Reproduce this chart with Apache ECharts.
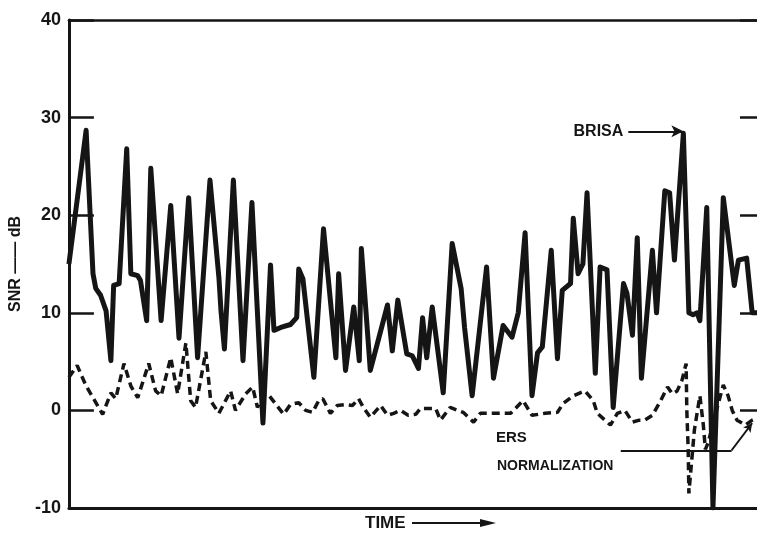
<!DOCTYPE html>
<html>
<head>
<meta charset="utf-8">
<script src="https://cdn.jsdelivr.net/npm/echarts@6/dist/echarts.min.js"></script>
<style>
html,body{margin:0;padding:0;background:#fff;}
#c{width:757px;height:538px;}
</style>
</head>
<body>
<div id="c"></div>
<script>
// Y axis ticks
var yTicks = [-10, 0, 10, 20, 30, 40];
// BRISA (solid) — time (arbitrary units 0..100) and SNR dB
var brisaTime = [0,2.5,3.5,3.9,4.6,5.4,6.1,6.5,7.3,8.4,
  9.0,10.0,10.4,11.3,11.9,13.4,14.8,16.0,17.4,18.7,
  20.5,21.8,22.1,22.6,23.9,25.3,26.6,28.2,29.3,29.8,
  30.8,32.2,33.1,33.4,34.0,35.6,37.0,38.8,39.2,40.2,
  41.4,42.2,42.5,43.8,46.3,47.0,47.8,49.1,49.9,50.8,
  51.4,52.0,52.8,54.4,55.7,57.0,57.5,58.6,60.7,61.7,
  63.1,64.4,65.3,66.3,67.3,68.1,68.8,70.1,71.0,71.7,
  72.9,73.3,74.0,74.7,75.3,76.5,77.2,78.2,79.1,80.6,
  81.1,81.9,82.6,83.2,84.8,85.4,86.6,87.3,88.0,89.3,
  90.1,90.7,91.3,91.7,92.7,93.6,95.1,96.7,97.3,98.5,
  99.3,100];
var brisaSnr = [15,28.7,14,12.5,11.8,10.2,5.1,12.8,13,26.8,
  14,13.8,13.3,9.2,24.8,9.2,21,7.4,21.8,5.4,
  23.6,13.6,10.2,6.3,23.6,5.1,21.3,-1.3,14.9,8.2,
  8.5,8.8,9.5,14.5,13.5,3.4,18.6,5.4,14,4.1,
  10.6,5.1,16.6,4.1,10.8,6.1,11.3,5.8,5.6,4.3,
  9.5,5.4,10.6,1.8,17.1,12.5,8.5,1.5,14.7,3.3,
  8.7,7.5,10,18.2,1.5,5.9,6.5,16.4,5.3,12.3,
  13,19.7,14,15,22.3,3.8,14.7,14.4,0.3,13,
  12,7.7,17.7,3.3,16.4,10,22.5,22.3,15.4,28.4,
  10,9.8,10,9.2,20.8,-10,21.8,12.8,15.4,15.6,
  10,10];
// ERS normalization (dashed)
var ersTime = [0,1.2,2.5,4.9,6.1,6.8,8.0,9.0,10.0,11.6,
  12.6,13.4,14.8,15.8,17.0,17.7,18.4,19.9,20.6,21.8,
  23.5,24.2,25.7,26.7,27.4,28.2,28.9,31.2,32.2,33.4,
  34.4,35.4,36.3,36.9,38.0,39.0,40.2,41.2,42.1,42.8,
  43.8,45.3,46.3,47.2,48.2,49.3,50.4,51.1,53.3,54.0,
  55.4,57.3,58.8,59.8,62.0,64.2,66.0,67.3,69.2,71.0,
  71.8,73.3,74.3,75.0,76.2,76.8,77.9,78.7,79.7,80.8,
  81.9,82.9,83.7,84.8,86.0,87.0,87.7,88.4,89.1,89.7,
  89.8,90.0,90.1,90.9,91.7,92.2,92.5,92.9,94.3,95.1,
  95.8,96.4,97.1,98.3,99.3,100];
var ersSnr = [3.4,4.6,2.5,-0.4,1.8,1.2,4.8,2.5,1.3,4.8,
  2,1.5,5.4,1.7,6.9,1,0.3,6,1,-0.3,
  2,0,1.7,2.4,0.3,1.5,1.7,-0.4,0.6,0.8,
  0,-0.2,1,1.2,-0.3,0.5,0.6,0.5,1.2,0.3,
  -0.7,0.5,-0.5,-0.3,0,-0.5,-0.4,0.2,0.2,-1,
  0.3,-0.2,-1.2,-0.3,-0.3,-0.3,1,-0.5,-0.3,-0.2,
  0.7,1.5,1.8,2,1,-0.3,-1,-1.5,-0.3,0,
  -1.2,-1,-1,-0.5,1,2.4,1.7,2,3.1,4.8,
  0,-4,-8.5,-2,1.5,-1.5,-4,-3.3,0.5,2.6,
  1.5,0,-1,-1.5,-1,-0.8];
// annotation anchors (data units)
var brisaArrow = [[81.3, 28.6], [89.3, 28.6]];
var ersArrow = [[80.2, -4.1], [96.3, -4.1], [99.3, -1.3]];

function zip(a, b) { return a.map(function (v, i) { return [v, b[i]]; }); }

var ink = '#151515';
var chart = echarts.init(document.getElementById('c'));
chart.setOption({
  backgroundColor: '#fff',
  animation: false,
  grid: { left: 68, right: 0, top: 20, bottom: 30 },
  xAxis: [
    { type: 'value', min: 0, max: 100, position: 'bottom',
      axisLine: { show: true, onZero: false, lineStyle: { color: ink, width: 3 } },
      axisTick: { show: false }, axisLabel: { show: false }, splitLine: { show: false } },
    { type: 'value', min: 0, max: 100, position: 'top',
      axisLine: { show: true, onZero: false, lineStyle: { color: ink, width: 2.5 } },
      axisTick: { show: false }, axisLabel: { show: false }, splitLine: { show: false } }
  ],
  yAxis: [
    { type: 'value', min: yTicks[0], max: yTicks[yTicks.length - 1], interval: 10, position: 'left',
      name: 'SNR —— dB', nameLocation: 'middle', nameGap: 44, nameRotate: 90,
      nameTextStyle: { color: ink, fontSize: 16, fontWeight: 'bold', fontFamily: 'Liberation Sans' },
      axisLine: { show: true, onZero: false, lineStyle: { color: ink, width: 3 } },
      axisTick: { show: true, inside: true, length: 25, lineStyle: { color: ink, width: 2.5 } },
      axisLabel: { color: ink, fontSize: 18, fontWeight: 'bold', fontFamily: 'Liberation Sans', margin: 8 },
      splitLine: { show: false } },
    { type: 'value', min: yTicks[0], max: yTicks[yTicks.length - 1], interval: 10, position: 'right',
      axisLine: { show: false, onZero: false },
      axisTick: { show: true, inside: true, length: 17, lineStyle: { color: ink, width: 2.5 } },
      axisLabel: { show: false }, splitLine: { show: false } }
  ],
  series: [
    { type: 'line', name: 'BRISA', data: zip(brisaTime, brisaSnr), showSymbol: false,
      lineStyle: { color: ink, width: 5, join: 'round' }, z: 3,
      markLine: { silent: true, symbolSize: [9, 12],
        lineStyle: { color: ink, width: 2, type: 'solid' },
        label: { show: true, position: 'start', formatter: 'BRISA', color: ink, fontSize: 16,
          fontWeight: 'bold', fontFamily: 'Liberation Sans', distance: 5 },
        data: [[{ coord: brisaArrow[0], symbol: 'none' }, { coord: brisaArrow[1], symbol: 'arrow' }]] } },
    { type: 'line', name: 'ERS NORMALIZATION', data: zip(ersTime, ersSnr), showSymbol: false,
      lineStyle: { color: ink, width: 3.5, type: [8, 5] }, z: 2,
      markLine: { silent: true, symbolSize: [7, 9],
        lineStyle: { color: ink, width: 1.8, type: 'solid' }, label: { show: false },
        data: [
          [{ coord: ersArrow[0], symbol: 'none' }, { coord: ersArrow[1], symbol: 'none' }],
          [{ coord: ersArrow[1], symbol: 'none' }, { coord: ersArrow[2], symbol: 'arrow' }]
        ] } }
  ],
  graphic: [
    { type: 'text', left: 496, top: 430, style: { text: 'ERS', fill: ink, font: 'bold 15px "Liberation Sans"' } },
    { type: 'text', left: 497, top: 459, style: { text: 'NORMALIZATION', fill: ink, font: 'bold 14px "Liberation Sans"' } },
    { type: 'text', left: 365, top: 515, style: { text: 'TIME', fill: ink, font: 'bold 17px "Liberation Sans"' } },
    { type: 'line', shape: { x1: 412, y1: 523, x2: 484, y2: 523 }, style: { stroke: ink, lineWidth: 2 } },
    { type: 'polygon', shape: { points: [[480, 519], [496, 523], [480, 527]] }, style: { fill: ink } }
  ]
});
</script>
</body>
</html>
